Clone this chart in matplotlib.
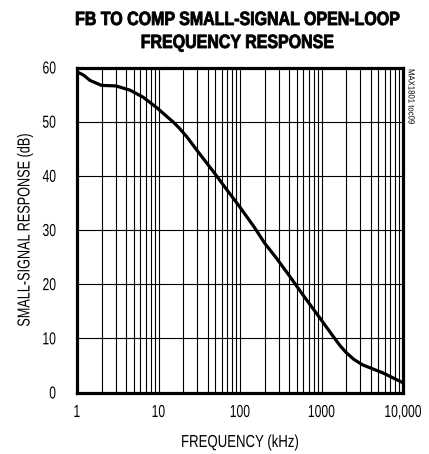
import numpy as np
import matplotlib
matplotlib.use('Agg')
import matplotlib.pyplot as plt
from matplotlib.ticker import LogLocator, FixedLocator, NullFormatter
from matplotlib.patheffects import AbstractPathEffect
from matplotlib.path import Path

plt.rcParams['font.family'] = ['Liberation Sans', 'DejaVu Sans']

# frequency response
freq_khz = [1, 1.2, 1.45, 2.0, 3.0, 4.5, 6.5, 9.5, 13, 15, 18, 22, 25, 30, 47,
            70, 100, 150, 200, 280, 410, 600, 950, 1400, 1700, 2000, 2500,
            3200, 5700, 10000]
gain_db = [59.2, 58.6, 57.6, 56.7, 56.6, 55.8, 54.5, 52.6, 50.8, 50.0, 48.8,
           47.3, 46.2, 44.6, 40.8, 37.3, 34.2, 30.5, 27.6, 24.8, 21.4, 17.9,
           13.8, 10.3, 8.6, 7.4, 6.1, 5.1, 3.6, 1.8]

xticks = [1, 10, 100, 1000, 10000]
xticklabels = ['1', '10', '100', '1000', '10,000']
yticks = [0, 10, 20, 30, 40, 50, 60]


class Squeeze(AbstractPathEffect):
    """rescale glyphs to fake a condensed face (sx<1) or a taller one (sy>1)"""
    def __init__(self, sx=0.72, align='center', sy=1.0, stroke=0.0):
        super().__init__()
        self.sx = sx
        self.sy = sy
        self.align = align
        self.stroke = stroke

    def draw_path(self, renderer, gc, tpath, affine, rgbFace=None):
        v = tpath.vertices.copy()
        if len(v):
            w = v[:, 0].max()
            k = {'left': 0.0, 'center': 0.5, 'right': 1.0}[self.align]
            v[:, 0] = v[:, 0] * self.sx + k * (1 - self.sx) * w
            v[:, 1] = v[:, 1] * self.sy
        p = Path(v, tpath.codes)
        if self.stroke:
            gc0 = renderer.new_gc()
            gc0.copy_properties(gc)
            gc0.set_linewidth(self.stroke)
            gc0.set_foreground(rgbFace)
            renderer.draw_path(gc0, p, affine, rgbFace)
            gc0.restore()
        else:
            renderer.draw_path(gc, p, affine, rgbFace)


W, H = 429, 454
fig = plt.figure(figsize=(W / 100, H / 100), dpi=100)
ax = fig.add_axes([77 / W, 1 - 392.5 / H, 326 / W, 325 / H])

ax.plot(freq_khz, gain_db, color='black', lw=2.3, zorder=3,
        solid_joinstyle='round')

ax.set_xscale('log')
ax.set_xlim(1, 10000)
ax.set_ylim(0, 60)
ax.xaxis.set_major_locator(FixedLocator(xticks))
ax.set_xticklabels(xticklabels)
ax.xaxis.set_minor_locator(LogLocator(base=10, subs=np.arange(2, 10)))
ax.xaxis.set_minor_formatter(NullFormatter())
ax.set_yticks(yticks)

ax.grid(True, which='both', axis='x', color='black', lw=0.8)
ax.grid(True, which='major', axis='y', color='black', lw=0.8)
ax.tick_params(which='both', length=0, labelsize=12.5)
ax.tick_params(axis='x', pad=9)
ax.tick_params(axis='y', pad=15)
for lab in ax.get_xticklabels():
    lab.set_path_effects([Squeeze(0.70, 'center')])
for lab in ax.get_yticklabels():
    lab.set_path_effects([Squeeze(0.70, 'right')])

for s in ax.spines.values():
    s.set_linewidth(2.3)

fig.text(240 / W, 1 - 447 / H, 'FREQUENCY (kHz)', ha='center', va='baseline',
         fontsize=12.5, path_effects=[Squeeze(0.76, 'center')])
fig.text(25 / W, 1 - 230 / H, 'SMALL-SIGNAL RESPONSE (dB)', rotation=90,
         ha='center', va='center', fontsize=12.5, path_effects=[Squeeze(0.73, 'center')])

# title: nominal size keeps the width, glyphs stretched upward for the condensed look
title_fx = [Squeeze(1.0, 'center', sy=1.2, stroke=0.6)]
fig.text(238 / W, 1 - 25 / H, 'FB TO COMP SMALL-SIGNAL OPEN-LOOP', ha='center',
         va='baseline', fontsize=11.5, fontweight='bold', path_effects=title_fx)
fig.text(238 / W, 1 - 48 / H, 'FREQUENCY RESPONSE', ha='center', va='baseline',
         fontsize=11.5, fontweight='bold', path_effects=title_fx)
fig.text(411 / W, 1 - 69 / H, 'MAX1801 toc09', rotation=270, ha='center', va='top',
         fontsize=6.5, path_effects=[Squeeze(0.86, 'left')])

fig.savefig('out.png', dpi=100)
